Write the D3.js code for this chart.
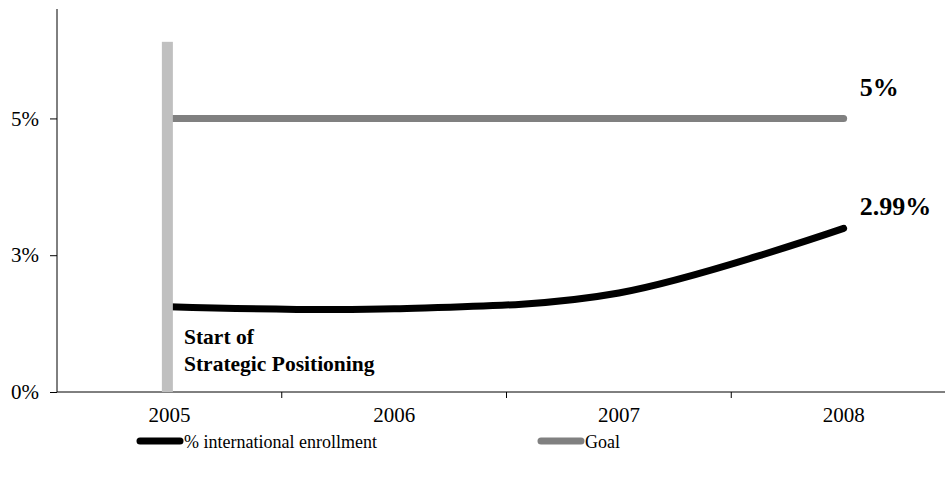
<!DOCTYPE html>
<html>
<head>
<meta charset="utf-8">
<script src="https://cdn.jsdelivr.net/npm/d3@7"></script>
<style>
  body { margin: 0; background: #fff; }
  svg text { font-family: "Liberation Serif", "Times New Roman", serif; fill: #000; }
</style>
</head>
<body>
<div class="chart"></div>
<script>
var years = ['2005', '2006', '2007', '2008']
var enrollment = [0.0156, 0.0152, 0.0181, 0.0299]
var goal = [0.05, 0.05, 0.05, 0.05]
var yTicks = [0, 0.025, 0.05]
var markerTop = 0.064   // height of the "start" marker bar
var seriesNames = ['% international enrollment', 'Goal']
var endLabels = ['2.99%', '5%']

var chartwidth = 945
var chartheight = 485
var plotleft = 57
var plottop = 9
var plotbottom = 392

var svg = d3.select('.chart').append('svg')
  .attr('width', chartwidth)
  .attr('height', chartheight)

var x = d3.scaleBand().domain(years).range([plotleft, 956]).padding(0)
var y = d3.scaleLinear().domain([0, 0.07]).range([plotbottom, plottop])
var cx = d => x(d) + x.bandwidth() / 2

// y axis
var yAxis = svg.append('g')
  .attr('transform', `translate(${plotleft},0)`)
  .call(d3.axisLeft(y).tickValues(yTicks).tickFormat(d3.format('.0%')).tickSize(7).tickPadding(11))
yAxis.select('.domain').attr('d', `M0,${plottop}V${plotbottom}`).attr('stroke', '#000')
yAxis.selectAll('text').style('font-size', '21px').attr('font-family', null)
yAxis.selectAll('line').attr('stroke', '#000')

// x axis, labels in middle of categories, ticks between
var xAxis = svg.append('g')
  .attr('transform', `translate(0,${plotbottom})`)
  .call(d3.axisBottom(x).tickSize(0).tickPadding(15))
xAxis.select('.domain').attr('d', `M${plotleft},0H${chartwidth}`).attr('stroke', '#000')
xAxis.selectAll('text').style('font-size', '21px').attr('font-family', null)

xAxis.selectAll('.sep')
  .data(years.slice(1))
  .enter().append('line')
  .attr('class', 'sep')
  .attr('x1', d => x(d)).attr('x2', d => x(d))
  .attr('y1', 0).attr('y2', 6)
  .attr('stroke', '#000')

var line = d3.line()
  .x((d, i) => cx(years[i]))
  .y(d => y(d))
  .curve(d3.curveCardinal.tension(0))

svg.append('path')
  .datum(goal)
  .attr('d', line)
  .attr('fill', 'none')
  .attr('stroke', '#808080')
  .attr('stroke-width', 7)
  .attr('stroke-linecap', 'round')

svg.append('path')
  .datum(enrollment)
  .attr('d', line)
  .attr('fill', 'none')
  .attr('stroke', '#000')
  .attr('stroke-width', 7)
  .attr('stroke-linecap', 'round')

// start marker bar
svg.append('rect')
  .attr('x', cx(years[0]) - 7.5)
  .attr('y', y(markerTop))
  .attr('width', 11)
  .attr('height', y(0) - y(markerTop))
  .attr('fill', '#c0c0c0')

var note = svg.append('text')
  .attr('x', 184)
  .attr('y', 344)
  .style('font-size', '21.5px')
  .style('font-weight', 'bold')
note.append('tspan').text('Start of')
note.append('tspan').attr('x', 184).attr('dy', 27).text('Strategic Positioning')

// end labels
var last = years.length - 1
svg.append('text')
  .attr('x', cx(years[last]) + 16)
  .attr('y', y(enrollment[last]) - 13)
  .style('font-size', '26px').style('font-weight', 'bold')
  .text(endLabels[0])
svg.append('text')
  .attr('x', cx(years[last]) + 16)
  .attr('y', y(goal[last]) - 22)
  .style('font-size', '26px').style('font-weight', 'bold')
  .text(endLabels[1])

// legend
var legend = svg.append('g').attr('transform', 'translate(0,441)')
var legendX = [137, 538]
var legendColors = ['#000', '#808080']
seriesNames.forEach((name, i) => {
  legend.append('line')
    .attr('x1', legendX[i] + 3).attr('x2', legendX[i] + 43)
    .attr('y1', 0).attr('y2', 0)
    .attr('stroke', legendColors[i])
    .attr('stroke-width', 7)
    .attr('stroke-linecap', 'round')
  legend.append('text')
    .attr('x', legendX[i] + 47)
    .attr('y', 7)
    .style('font-size', '18px')
    .text(name)
})
</script>
</body>
</html>
